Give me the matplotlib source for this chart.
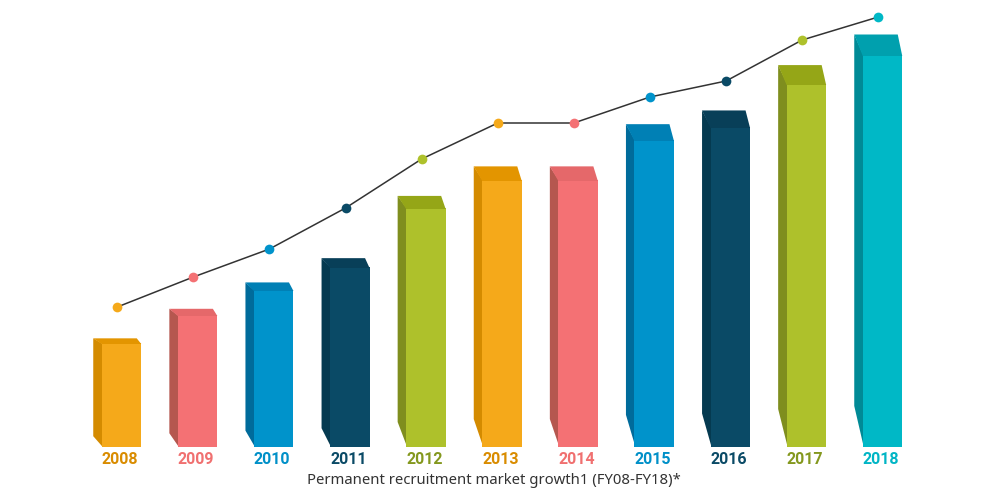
import matplotlib
matplotlib.use("Agg")
import matplotlib.pyplot as plt
from matplotlib.patches import Polygon

years = ["2008", "2009", "2010", "2011", "2012", "2013", "2014", "2015", "2016", "2017", "2018"]
bar_values = [103, 131, 156, 179, 238, 266, 266, 306, 319, 362, 391]
line_values = [140, 170, 198, 239, 288, 324, 324, 350, 366, 407, 430]
title = "Permanent recruitment market growth1 (FY08-FY18)*"

palette = {
    "orange": ("#F5A91A", "#E39500", "#D48B00", "#D98C00"),
    "pink": ("#F47174", "#E5686A", "#B5574F", "#F07070"),
    "blue": ("#0093CB", "#0080B5", "#006B9B", "#0090C8"),
    "navy": ("#0A4A66", "#083F58", "#053A50", "#0A4A66"),
    "green": ("#AEC12B", "#95A617", "#7F8E1E", "#84981E"),
    "teal": ("#00B8C6", "#00A0AE", "#008A96", "#00B5C5"),
}
color_seq = ["orange", "pink", "blue", "navy", "green",
             "orange", "pink", "blue", "navy", "green", "teal"]

fig = plt.figure(figsize=(10, 5), dpi=100)
ax = fig.add_axes([0, 0, 1, 1])
step = 76.1
ax.set_xlim(-121.5 / step, (1000 - 121.5) / step)
ax.set_ylim(-53, 447)
ax.axis("off")

w = 39.5 / step / 2      # half front width
d = 8.5 / step           # side depth
dr = 4.5 / step          # back-right offset of cap
ov = 1.0 / step          # small overlap to hide seams

for i, (v, cname) in enumerate(zip(bar_values, color_seq)):
    front, cap, side, lab = palette[cname]
    x0, x1 = i - w, i + w
    cap_h = 0.055 * v
    bot_h = 0.105 * v
    # side face
    ax.add_patch(Polygon([(x0 - d, v + cap_h), (x0 - d, bot_h), (x0 + ov, 0), (x0 + ov, v)],
                         closed=True, facecolor=side, edgecolor="none", zorder=2))
    # front face
    ax.add_patch(Polygon([(x0, 0), (x1, 0), (x1, v + 0.8), (x0, v + 0.8)],
                         closed=True, facecolor=front, edgecolor="none", zorder=2.5))
    # top cap
    ax.add_patch(Polygon([(x0 - d, v + cap_h), (x1 - dr, v + cap_h), (x1, v), (x0, v)],
                         closed=True, facecolor=cap, edgecolor="none", zorder=3))
    ax.text(i - 0.02, -13, years[i], ha="center", va="center", fontsize=11.5,
            fontweight="bold", color=lab, family=["Roboto", "DejaVu Sans"])

xs = [i - d / 2 for i in range(len(years))]
ax.plot(xs, line_values, color="#333333", lw=1.1, zorder=4)
for x, y, cname in zip(xs, line_values, color_seq):
    ax.plot(x, y, "o", ms=7, color=palette[cname][0], mec="none", zorder=5)

ax.text((494 - 121.5) / step, -34, title, ha="center", va="center",
        fontsize=10.7, color="#333333", family=["Noto Sans", "DejaVu Sans"])

fig.savefig("out.png", dpi=100, facecolor="white")
